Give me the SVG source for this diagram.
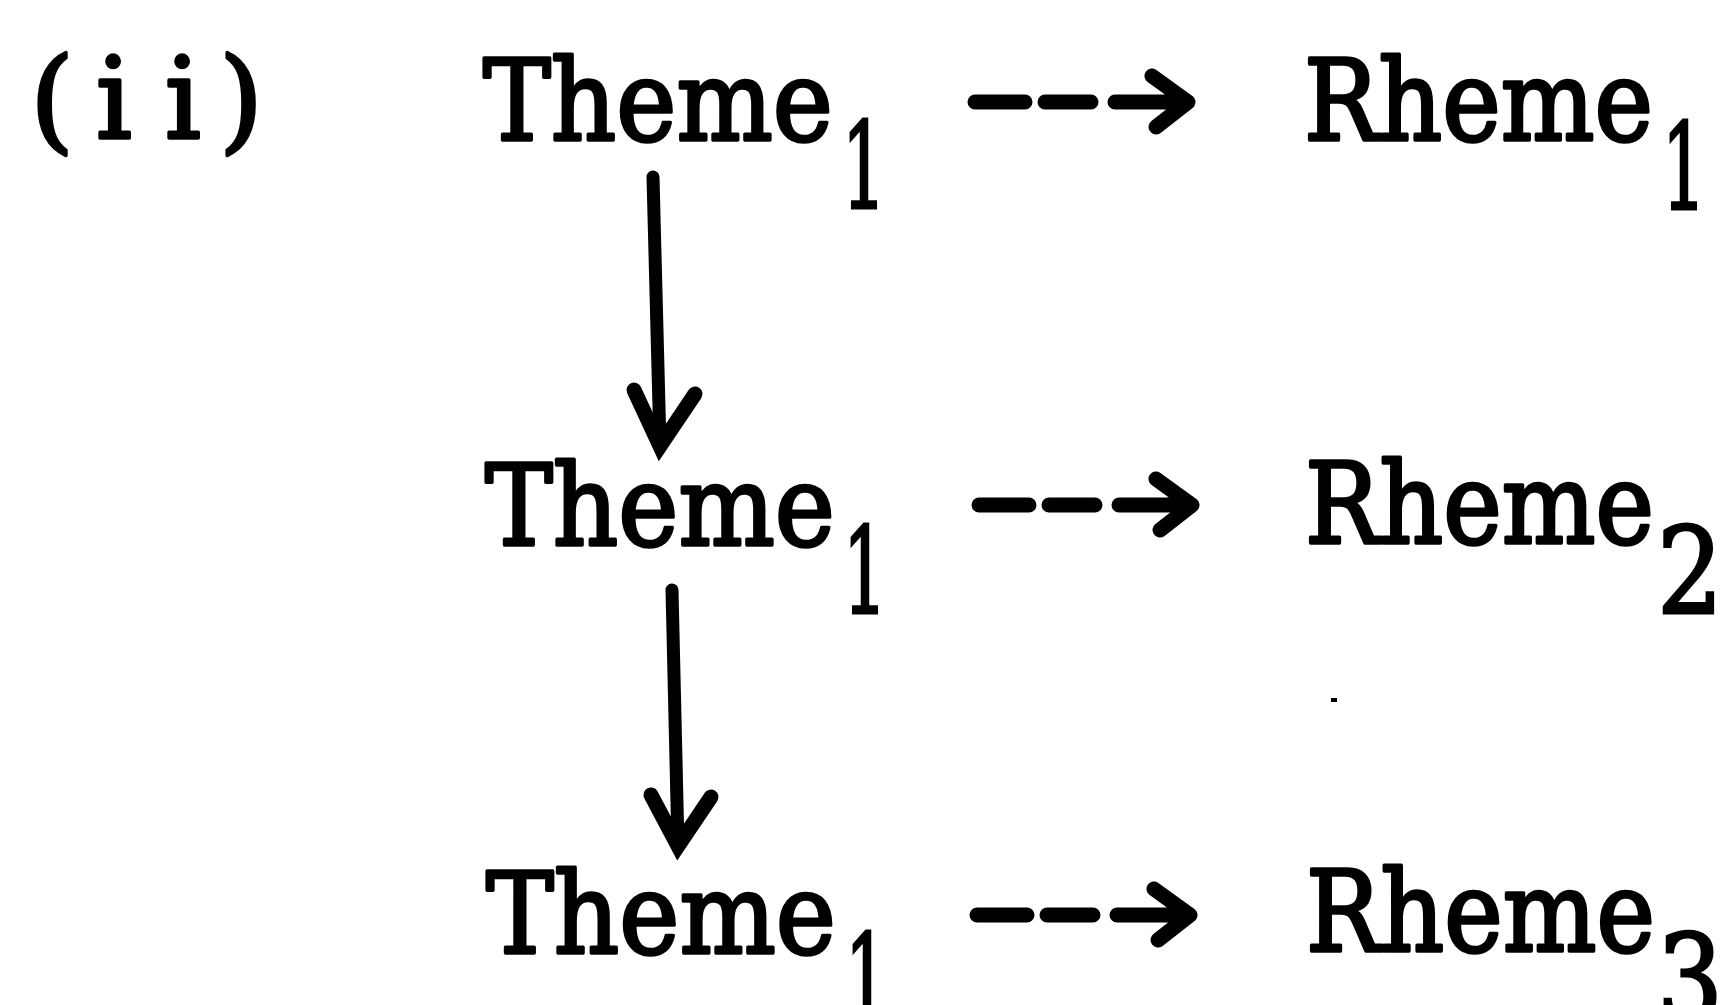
<svg xmlns="http://www.w3.org/2000/svg" xmlns:xlink="http://www.w3.org/1999/xlink" width="1728" height="1005" viewBox="0 0 1728 1005">
<style>
  .t { font-family: "DejaVu Serif", "Liberation Serif", serif; font-size: 112px; fill: #000; stroke: #000; stroke-width: 3.5; stroke-linejoin: round; }
  .sub { font-family: "DejaVu Serif", "Liberation Serif", serif; font-size: 120px; fill: #000; stroke: #000; stroke-width: 3; text-anchor: middle; }
  .ln { fill: none; stroke: #000; stroke-width: 15; stroke-linecap: round; stroke-linejoin: round; }
  .vl { fill: none; stroke: #000; stroke-width: 13; stroke-linecap: round; stroke-linejoin: miter; }
  .hd { fill: none; stroke: #000; stroke-width: 15; stroke-linecap: round; stroke-linejoin: miter; }
</style>
<defs>
  <path id="dash-arrow" class="ln" d="M0,0 H50 M70,0 H116 M140,0 H213 M177,-26 L213,0 L181,25"/>
</defs>
<rect width="1728" height="1005" fill="#fff"/>

<g id="label-ii">
  <text class="t" x="52 114 183 241" y="138" text-anchor="middle">(ii)</text>
</g>

<g id="theme-1">
  <text class="t" x="483" y="140" textLength="350" lengthAdjust="spacingAndGlyphs">Theme</text>
  <text class="sub" x="864" y="208" textLength="44" lengthAdjust="spacingAndGlyphs">1</text>
</g>
<g id="rheme-1">
  <text class="t" x="1304" y="140" textLength="349" lengthAdjust="spacingAndGlyphs">Rheme</text>
  <text class="sub" x="1684" y="209" textLength="44" lengthAdjust="spacingAndGlyphs">1</text>
</g>

<g id="theme-2">
  <text class="t" x="485" y="545" textLength="350" lengthAdjust="spacingAndGlyphs">Theme</text>
  <text class="sub" x="865" y="613" textLength="44" lengthAdjust="spacingAndGlyphs">1</text>
</g>
<g id="rheme-2">
  <text class="t" x="1305" y="543" textLength="349" lengthAdjust="spacingAndGlyphs">Rheme</text>
  <text class="sub" x="1690" y="613" textLength="66" lengthAdjust="spacingAndGlyphs">2</text>
</g>

<g id="theme-3">
  <text class="t" x="486" y="953" textLength="350" lengthAdjust="spacingAndGlyphs">Theme</text>
  <text class="sub" x="867" y="1020" textLength="44" lengthAdjust="spacingAndGlyphs">1</text>
</g>
<g id="rheme-3">
  <text class="t" x="1306" y="951" textLength="349" lengthAdjust="spacingAndGlyphs">Rheme</text>
  <text class="sub" x="1690" y="1020" textLength="66" lengthAdjust="spacingAndGlyphs">3</text>
</g>

<g id="connectors">
  <use xlink:href="#dash-arrow" href="#dash-arrow" transform="translate(975,102)"/>
  <use xlink:href="#dash-arrow" href="#dash-arrow" transform="translate(979,505)"/>
  <use xlink:href="#dash-arrow" href="#dash-arrow" transform="translate(977,915)"/>
  <path class="vl" d="M653,177 L660,446"/>
  <path class="hd" d="M634,390 L660,446 L695,394"/>
  <path class="vl" d="M672,590 L678,846"/>
  <path class="hd" d="M651,795 L678,846 L711,797"/>
</g>

<rect x="1331" y="698" width="6" height="4" fill="#000"/>
</svg>
